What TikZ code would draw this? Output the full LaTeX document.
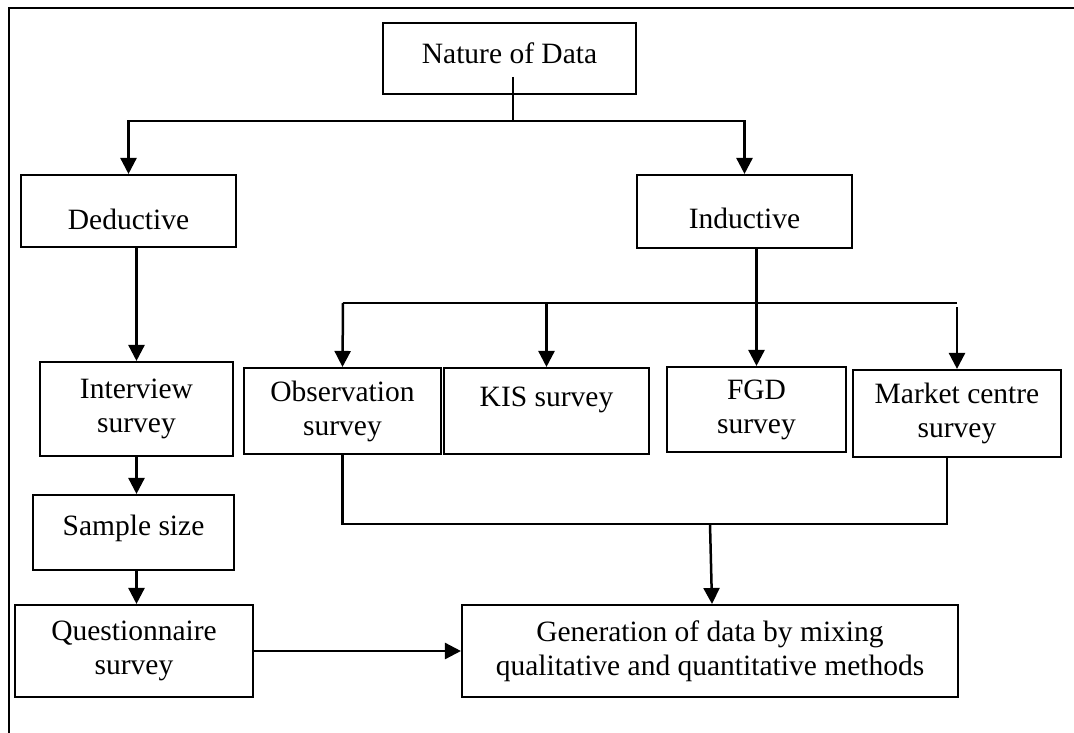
\documentclass[tikz,border=0pt]{standalone}
\usepackage{fontspec}
\setmainfont{Liberation Serif}
\usetikzlibrary{arrows.meta,calc}
\begin{document}
\begin{tikzpicture}[x=1pt,y=-1pt,
  box/.style={draw, line width=2.1pt, inner sep=0pt, align=center,
    font=\fontsize{29.5pt}{34pt}\selectfont},
  link/.style={line width=2.1pt},
  arrowlink/.style={line width=2.5pt, -{Triangle[length=16pt,width=16pt]}},
  frameline/.style={line width=2.8pt}
]
\useasboundingbox (0,0) rectangle (1074,733);
\draw[frameline] (9,733) -- (9,8) -- (1074,8);

% boxes
\node[box, minimum width=253pt, minimum height=71pt, text height=10.2pt, text depth=0pt] (nat) at (509.5,58.5) {Nature of Data};
\node[box, minimum width=215pt, minimum height=72pt, text height=36pt, text depth=0pt] (ded) at (128.5,211) {Deductive};
\node[box, minimum width=215pt, minimum height=73pt, text height=34pt, text depth=0pt] (ind) at (744.5,211.5) {Inductive};
\node[box, minimum width=193pt, minimum height=94pt] (int) at (136.5,409) {Interview\\survey};
\node[box, minimum width=201pt, minimum height=75pt, text height=5.2pt, text depth=0pt] (samp) at (133.5,532.5) {Sample size};
\node[box, minimum width=238pt, minimum height=92pt] (que) at (134,651) {Questionnaire\\survey};
\node[box, minimum width=197pt, minimum height=86pt] (obs) at (342.5,411) {Observation\\survey};
\node[box, minimum width=205pt, minimum height=86pt, text height=10pt, text depth=18.8pt] (kis) at (546.5,411) {KIS survey};
\node[box, minimum width=179pt, minimum height=85pt] (fgd) at (756.5,409.5) {FGD\\survey};
\node[box, minimum width=208pt, minimum height=87pt] (mkt) at (957,413.5) {Market centre\\survey};
\node[box, minimum width=496pt, minimum height=92pt] (gen) at (710,651) {Generation of data by mixing\\qualitative and quantitative methods};

% coordinates for junctions
\coordinate (natstub) at (513,77);
\coordinate (j1) at (513,121);
\coordinate (hL) at (343,303);
\coordinate (hR) at (957,303);
\coordinate (mktstub) at (957,307);
\coordinate (bR) at (947,524);
\coordinate (bM) at (710,524);

% top split
\draw[link] (natstub) -- (j1);
\draw[arrowlink] (j1) -| (ded.north);
\draw[arrowlink] (j1) -| (ind.north);

% deductive chain
\draw[arrowlink] (ded.south -| int.north) -- (int.north);
\draw[arrowlink] (int.south) -- (int.south |- samp.north);
\draw[arrowlink] (samp.south -| int.south) -- (que.north -| int.south);
\draw[arrowlink] (que.east) -- (gen.west);

% inductive split
\draw[arrowlink] (ind.south -| fgd.north) -- (fgd.north);
\draw[link] (hL) -- (hR);
\draw[arrowlink] (hL) -- (obs.north);
\draw[arrowlink] (kis.north |- hL) -- (kis.north);
\draw[arrowlink] (mktstub) -- (mkt.north);

% merge to generation
\draw[link] ($(obs.south)+(0,-2)$) |- (bR) -- (bR |- mkt.south);
\draw[arrowlink] (bM) -- ($(gen.north)+(2,0)$);
\end{tikzpicture}
\end{document}
